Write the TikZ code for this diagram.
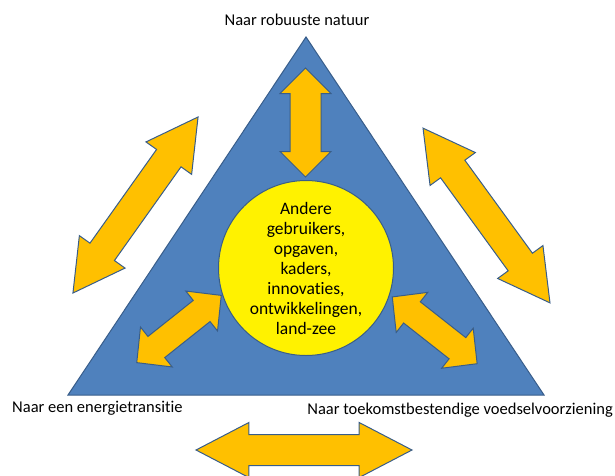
\documentclass[tikz,border=0pt]{standalone}
\usepackage{fontspec}
\setmainfont{Carlito}[Ligatures=NoCommon]
\usetikzlibrary{shapes.arrows}
\definecolor{vlak}{HTML}{4F81BD}
\definecolor{rand}{HTML}{385D8A}
\definecolor{oranje}{HTML}{FFC000}

\begin{document}
\begin{tikzpicture}[x=1pt, y=-1pt,
    pijl/.style={double arrow, draw=rand, fill=oranje, line width=1pt, inner sep=0pt, outer sep=0pt,
      double arrow head indent=0pt},
    buiten/.style={pijl, minimum height=216pt, double arrow head extend=13pt, double arrow tip angle=58},
    binnen/.style={pijl, minimum height=108pt, double arrow head extend=12pt, double arrow tip angle=91},
    label/.style={font=\fontsize{16.5}{19}\selectfont, inner sep=0pt}]
  \useasboundingbox (0,0) rectangle (615,475);
  \draw[fill=vlak, draw=rand, line width=1pt] (306,37) coordinate (top) -- (544,395) coordinate (rechts)
    -- (68,395) coordinate (links) -- cycle;
  \node[circle, draw=rand, fill=yellow, line width=1pt, minimum size=175pt, inner sep=0pt, align=center,
    font=\fontsize{17.5}{20}\selectfont] (kern) at (306,268)
    {Andere\\gebruikers,\\opgaven,\\kaders,\\innovaties,\\ontwikkelingen,\\land-zee};
  \node[pijl, minimum height=109pt, double arrow head extend=10pt,
    double arrow tip angle=90, rotate=90] (natuurpijl) at (305.5,122.5) {\rule{0pt}{30pt}};
  \node[binnen, rotate=38.5] (energiepijl) at (179,329) {\rule{0pt}{26pt}};
  \node[binnen, rotate=-38.2] (voedselpijl) at (434.7,330.3) {\rule{0pt}{26pt}};
  \node[buiten, rotate=54.6] (linkspijl) at (135.5,205) {\rule{0pt}{29pt}};
  \node[buiten, rotate=-54] (rechtspijl) at (486.5,215.5) {\rule{0pt}{29pt}};
  \node[pijl, minimum height=216pt, double arrow head extend=12pt,
    double arrow tip angle=55] (onderpijl) at (304,450) {\rule{0pt}{30pt}};
  \node[label] (natuur) at (297,20) {Naar robuuste natuur};
  \node[label, anchor=west] (energie) at (12,408) {Naar een energietransitie};
  \node[label, anchor=east] (voedsel) at (613,410) {Naar toekomstbestendige voedselvoorziening};
\end{tikzpicture}
\end{document}
